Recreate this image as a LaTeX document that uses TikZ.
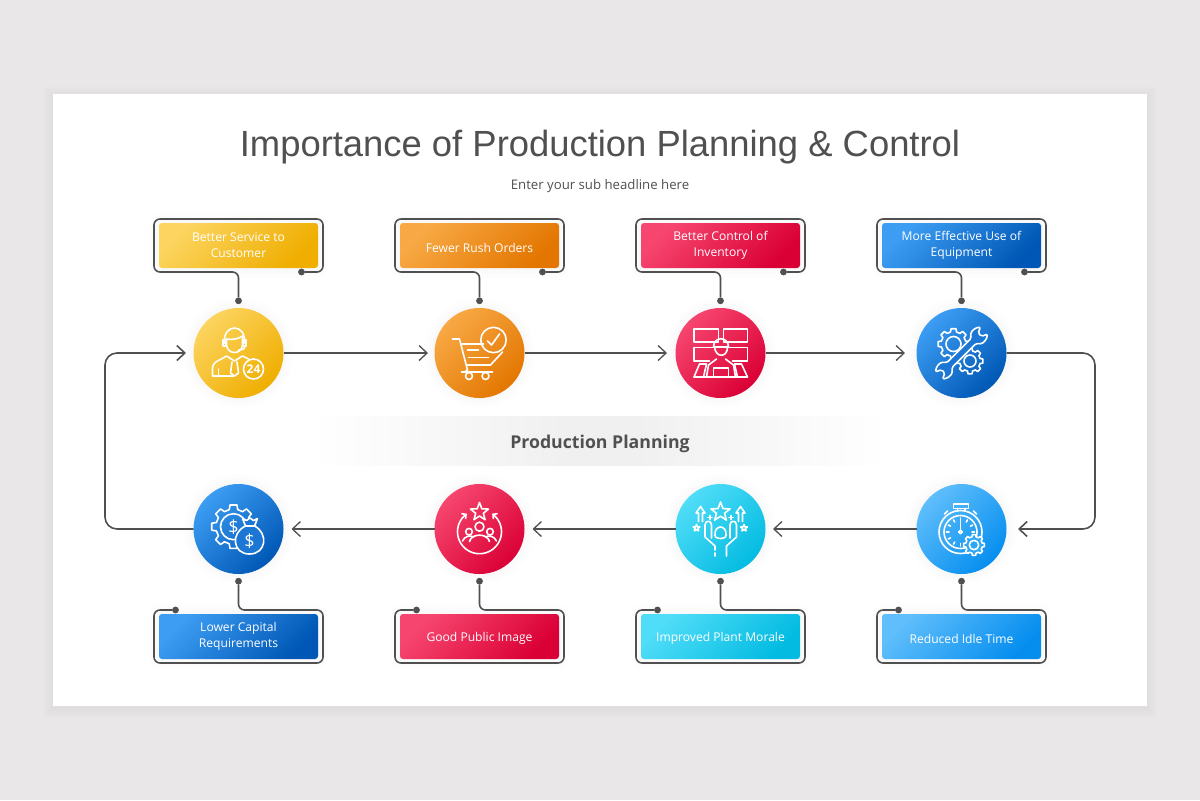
\documentclass[tikz,border=0pt]{standalone}
\usepackage{fontspec}
\setmainfont{Open Sans}
\newfontfamily\titlefont{Liberation Sans}
\usetikzlibrary{positioning, arrows.meta}

\definecolor{pagegray}{HTML}{E9E7E8}
\definecolor{inkgray}{HTML}{505050}
\definecolor{bluemid}{HTML}{1B76D4}
\definecolor{skymid}{HTML}{2CA8F6}
\definecolor{yellowtop}{HTML}{FCD45F}\definecolor{yellowend}{HTML}{EFAE00}
\definecolor{orangetop}{HTML}{F8A945}\definecolor{orangeend}{HTML}{E37600}
\definecolor{redtop}{HTML}{F6466F}\definecolor{redend}{HTML}{DA0035}
\definecolor{bluetop}{HTML}{3C9DF3}\definecolor{blueend}{HTML}{0057B5}
\definecolor{cyantop}{HTML}{50DDF8}\definecolor{cyanend}{HTML}{03BBE1}
\definecolor{skytop}{HTML}{5FBEFB}\definecolor{skyend}{HTML}{068EEF}

% one gear: options, x, y, outer radius
\newcommand{\gearshape}[4][]{
  \draw[shift={(#2,#3)},#1] (-14:#4*.8) \foreach \a in {0,45,...,315}
    {-- (\a-14:#4*.8) -- (\a-9:#4) -- (\a+9:#4) -- (\a+14:#4*.8)} -- cycle;
}
% one star: x, y, radius
\newcommand{\starshape}[3]{
  \draw[shift={(#1,#2)}] (-90:#3) \foreach \a/\r in {-54/.42,-18/1,18/.42,54/1,90/.42,126/1,162/.42,198/1,234/.42}
    {-- (\a:\r*#3)} -- cycle;
}

\begin{document}
\begin{tikzpicture}[x=.5pt, y=-.5pt, >={Straight Barb[length=4pt,width=7.5pt]},
    node distance=75.5pt,
    disc/.style={circle, minimum size=45pt, inner sep=0pt, outer sep=0pt, halo},
    tile/.style={rectangle, rounded corners=1.5pt, minimum width=79.5pt, minimum height=22.5pt,
      inner sep=0pt, outer sep=0pt, text=white, align=center,
      execute at begin node={\rule{0pt}{6.8pt}}, font=\fontsize{6.05}{8}\selectfont, halo},
    halo/.style={preaction={draw=black,draw opacity=.006,line width=10pt},
      preaction={draw=black,draw opacity=.006,line width=6pt},
      preaction={draw=black,draw opacity=.006,line width=3pt}},
    dot/.style={circle, fill=inkgray, minimum size=3.4pt, inner sep=0pt, outer sep=0pt},
    flow/.style={draw=inkgray, line width=.65pt, rounded corners=6pt, ->},
    wire/.style={draw=inkgray, line width=.8pt, rounded corners=3pt},
    icon/.style={draw=white, line width=.8pt, line join=round, line cap=round},
    yellowfill/.style={top color=yellowtop, bottom color=yellowend, shading angle=45},
    orangefill/.style={top color=orangetop, bottom color=orangeend, shading angle=45},
    redfill/.style={top color=redtop, bottom color=redend, shading angle=45},
    bluefill/.style={top color=bluetop, bottom color=blueend, shading angle=45},
    cyanfill/.style={top color=cyantop, bottom color=cyanend, shading angle=45},
    skyfill/.style={top color=skytop, bottom color=skyend, shading angle=45}]

  \fill[pagegray] (0,0) rectangle (1200,800);
  \useasboundingbox (0,0) rectangle (1200,800);
  \foreach \s in {1,2,...,10}
    \fill[black,opacity=.004] (53-\s,94-\s+2) rectangle (1147+\s,706+\s+2);
  \fill[white] (53,94) rectangle (1147,706);

  \foreach \s in {0,1,...,14}
    \fill[black,opacity=.004] (320+\s*17,416) rectangle (880-\s*17,466);
  \node[text=inkgray, font=\titlefont\fontsize{18.2}{22}\selectfont] (title) at (600,147) {Importance of Production Planning \& Control};
  \node[text=inkgray, font=\fontsize{6.6}{8}\selectfont] (subtitle) at (600,186) {Enter your sub headline here};
  \node[inner sep=0pt, text height=7.5pt, text depth=0pt, text=inkgray, font=\bfseries\fontsize{8.85}{11}\selectfont] (centre) at (600,441) {Production Planning};

  % top row
  \node[disc,yellowfill] (c1) at (238.5,353) {};
  \node[disc,orangefill,right=of c1] (c2) {};
  \node[disc,redfill,right=of c2] (c3) {};
  \node[disc,bluefill,right=of c3] (c4) {};
  % bottom row
  \node[disc,skyfill,below=43pt of c4] (c5) {};
  \node[disc,cyanfill,left=of c5] (c6) {};
  \node[disc,redfill,left=of c6] (c7) {};
  \node[disc,bluefill,left=of c7] (c8) {};

  \node[tile,yellowfill,above=20pt of c1] (b1) {Better Service to\\Customer};
  \node[tile,orangefill,above=20pt of c2] (b2) {Fewer Rush Orders};
  \node[tile,redfill,above=20pt of c3] (b3) {Better Control of\\Inventory};
  \node[tile,bluefill,above=20pt of c4] (b4) {More Effective Use of\\Equipment};
  \node[tile,skyfill,below=20pt of c5] (b5) {Reduced Idle Time};
  \node[tile,cyanfill,below=20pt of c6] (b6) {Improved Plant Morale};
  \node[tile,redfill,below=20pt of c7] (b7) {Good Public Image};
  \node[tile,bluefill,below=20pt of c8] (b8) {Lower Capital\\Requirements};

  \node[dot,above=1.9pt of c1] (p1) {};
  \node[dot,above=1.9pt of c2] (p2) {};
  \node[dot,above=1.9pt of c3] (p3) {};
  \node[dot,above=1.9pt of c4] (p4) {};
  \node[dot,below=1.9pt of c5] (p5) {};
  \node[dot,below=1.9pt of c6] (p6) {};
  \node[dot,below=1.9pt of c7] (p7) {};
  \node[dot,below=1.9pt of c8] (p8) {};
  \node[dot] (e1) at ([shift={(63,4)}]b1.south) {};
  \node[dot] (e2) at ([shift={(63,4)}]b2.south) {};
  \node[dot] (e3) at ([shift={(63,4)}]b3.south) {};
  \node[dot] (e4) at ([shift={(63,4)}]b4.south) {};
  \node[dot] (e5) at ([shift={(-63,-4)}]b5.north) {};
  \node[dot] (e6) at ([shift={(-63,-4)}]b6.north) {};
  \node[dot] (e7) at ([shift={(-63,-4)}]b7.north) {};
  \node[dot] (e8) at ([shift={(-63,-4)}]b8.north) {};

  \draw[wire] (e1) -- ++(21.5,0) -- ++(0,-53) -- ++(-169,0) -- ++(0,53) -- ++(84.5,0) -- (p1);
  \draw[wire] (e2) -- ++(21.5,0) -- ++(0,-53) -- ++(-169,0) -- ++(0,53) -- ++(84.5,0) -- (p2);
  \draw[wire] (e3) -- ++(21.5,0) -- ++(0,-53) -- ++(-169,0) -- ++(0,53) -- ++(84.5,0) -- (p3);
  \draw[wire] (e4) -- ++(21.5,0) -- ++(0,-53) -- ++(-169,0) -- ++(0,53) -- ++(84.5,0) -- (p4);
  \draw[wire] (e5) -- ++(-21.5,0) -- ++(0,53) -- ++(169,0) -- ++(0,-53) -- ++(-84.5,0) -- (p5);
  \draw[wire] (e6) -- ++(-21.5,0) -- ++(0,53) -- ++(169,0) -- ++(0,-53) -- ++(-84.5,0) -- (p6);
  \draw[wire] (e7) -- ++(-21.5,0) -- ++(0,53) -- ++(169,0) -- ++(0,-53) -- ++(-84.5,0) -- (p7);
  \draw[wire] (e8) -- ++(-21.5,0) -- ++(0,53) -- ++(169,0) -- ++(0,-53) -- ++(-84.5,0) -- (p8);

  \coordinate (ne) at (1095,353);
  \coordinate (se) at (1095,529);
  \coordinate (nw) at (105,353);
  \coordinate (sw) at (105,529);
  \draw[flow,shorten >=3.25pt] (c1) -- (c2);
  \draw[flow,shorten >=4.25pt] (c2) -- (c3);
  \draw[flow,shorten >=5.75pt] (c3) -- (c4);
  \draw[flow,line width=.8pt,shorten >=5.75pt] (c4) -- (ne) -- (se) -- (c5);
  \draw[flow,shorten >=3.75pt] (c5) -- (c6);
  \draw[flow,shorten >=4pt] (c6) -- (c7);
  \draw[flow,shorten >=4pt] (c7) -- (c8);
  \draw[flow,line width=.8pt,shorten >=3.75pt] (c8) -- (sw) -- (nw) -- (c1);

  % agent
  \begin{scope}[shift={(c1)},icon]
    \draw (-14,-10) .. controls (-16,-30) and (8,-30) .. (6,-10);
    \draw (-12,-14) .. controls (-7,-13) and (0,-14) .. (4,-17);
    \draw (-12,-14) -- (-12,-8) .. controls (-11,2) and (3,2) .. (4,-8) -- (4,-17);
    \draw (-15.5,-13) -- (-13,-13) -- (-13,-7) -- (-15.5,-7) -- cycle;
    \draw (5,-13) -- (7.5,-13) -- (7.5,-7) -- (5,-7) -- cycle;
    \draw (6.5,-7) .. controls (6,-3) and (3,-3) .. (0,-3);
    \draw (-5,23) -- (-26,23) -- (-26,15) .. controls (-26,9) and (-20,8) .. (-12,3) -- (-4,8) -- (4,3) -- (10,6);
    \draw (-20,23) -- (-20,16);
    \draw (-6.5,9) -- (-8,20) -- (-4,23) -- (0,20) -- (-1.5,9);
    \draw (15,16) circle (10);
    \node[text=white, inner sep=0pt, font=\bfseries\fontsize{6}{7}\selectfont] (n24) at (15,16) {24};
  \end{scope}
  % cart
  \begin{scope}[shift={(c2)},icon]
    \draw (-27,-14) -- (-20,-14) -- (-12,17) .. controls (-13,18) and (-14,19) .. (-18,19) -- (13,19);
    \draw (-18,-9) -- (4,-9);
    \draw (23,-1) -- (11,12) -- (-12,12);
    \draw (-12,-3) -- (-1,-3);
    \draw (-11,4.5) -- (9,4.5);
    \draw (-10.5,23) circle (3.5);
    \draw (6,23) circle (3.5);
    \draw (14,-13) circle (12.7);
    \draw (8,-12) -- (12,-8) -- (20,-19);
  \end{scope}
  % control wall
  \begin{scope}[shift={(c3)},icon]
    \draw (-26.5,-24) rectangle (-2,-11);
    \draw (3,-24) rectangle (27,-11);
    \draw (-8,-5.5) -- (-26.5,-5.5) -- (-26.5,8) -- (-11,8);
    \draw (9,-5.5) -- (27,-5.5) -- (27,8) -- (12,8);
    \draw (-26.5,24) -- (-21,11) -- (-14,11) -- (-17,24);
    \draw (27,24) -- (21,11) -- (14,11) -- (17,24);
    \draw (-26.5,24) -- (27,24);
    \draw (-7,-6) .. controls (-7,-17) and (8,-17) .. (8,-6) -- cycle;
    \draw (-6,-6) .. controls (-5,5) and (7,5) .. (7,-6);
    \draw (-14,24) -- (-12,12) -- (-4,6);
    \draw (15,24) -- (13,12) -- (5,6);
    \draw (-7,24) -- (-7,15) -- (8,15) -- (8,24);
  \end{scope}
  % gears and wrench
  \begin{scope}[shift={(c4)},icon]
    \gearshape{-8}{-9}{15.5}
    \draw (-8,-9) circle (7.5);
    \gearshape{8.5}{8}{13}
    \draw (8.5,8) circle (6);
    \begin{scope}[rotate=45]
      \draw[fill=bluemid,rounded corners=.8pt] (17,3.5) -- (21,8) -- (27,8) -- (32,5) -- (26,2.5) -- (26,-2.5) -- (32,-5)
        -- (27,-8) -- (21,-8) -- (17,-3.5) -- (-17,-3.5) -- (-21,-8) -- (-27,-8) -- (-32,-5) -- (-26,-2.5) -- (-26,2.5)
        -- (-32,5) -- (-27,8) -- (-21,8) -- (-17,3.5) -- cycle;
    \end{scope}
  \end{scope}
  % stopwatch
  \begin{scope}[shift={(c5)},icon]
    \draw (-8,-25) rectangle (7,-20.5);
    \draw (-4,-20.5) -- (-4,-18);
    \draw (3.5,-20.5) -- (3.5,-18);
    \draw (-17,-15) -- (-14,-18);
    \draw (15,-15) -- (12,-18);
    \draw (-1,3) circle (21.5);
    \draw (-1,3) circle (16.5);
    \foreach \a in {0,30,...,330}
      \draw (\a:11.5) ++(-1,3) -- ++(\a:2.5);
    \draw (-1,1) -- (-1,-10);
    \draw (-1,3) circle (1.8);
    \gearshape[fill=skymid]{12.5}{16}{10.5}
    \draw (12.5,16) circle (4.7);
  \end{scope}
  % morale
  \begin{scope}[shift={(c6)},icon]
    \starshape{0}{-17}{10}
    \starshape{-24}{-1}{3.5}
    \starshape{23.5}{-1}{3.5}
    \draw (-22,-7.5) -- (-22,-16) -- (-24.5,-16) -- (-20,-22.5) -- (-15.5,-16) -- (-18,-16) -- (-18,-7.5);
    \draw (18,-7.5) -- (18,-16) -- (15.5,-16) -- (20,-22.5) -- (24.5,-16) -- (22,-16) -- (22,-7.5);
    \draw (-12.5,-11.5) -- (-8.5,-11.5);
    \draw (-10.5,-13.5) -- (-10.5,-9.5);
    \draw (8.5,-11.5) -- (12.5,-11.5);
    \draw (10.5,-13.5) -- (10.5,-9.5);
    \draw (-5.5,7) .. controls (-7,-5) and (7,-5) .. (5.5,7);
    \draw (-5,8) .. controls (-2,10) and (2,10) .. (5,8);
    \draw (-9,9) -- (-9,-4) .. controls (-9,-9) and (-15.5,-9) .. (-15.5,-4) -- (-15.5,8) -- (-5.5,17) -- (-5.5,21);
    \draw (9.5,9) -- (9.5,-4) .. controls (9.5,-9) and (16,-9) .. (16,-4) -- (16,8) -- (6,17) -- (6,27);
    \draw (-5.5,24) -- (-5.5,27);
  \end{scope}
  % public image
  \begin{scope}[shift={(c7)},icon]
    \starshape{0}{-17}{9.5}
    \draw[<->,>={Straight Barb[length=1.6pt,width=3.4pt]}] plot[domain=-55:235,samples=50,variable=\t] ({22*cos(\t)},{2.7+22*sin(\t)});
    \draw (0,-2.3) circle (4.5);
    \draw (-10.5,2.7) circle (3.3);
    \draw (10.5,2.7) circle (3.3);
    \draw (-10,12.5) .. controls (-8,4) and (8,4) .. (10,12.5);
    \draw (-17,12) .. controls (-15,7) and (-9,6) .. (-6,8);
    \draw (17,12) .. controls (15,7) and (9,6) .. (6,8);
  \end{scope}
  % money gear
  \begin{scope}[shift={(c8)},icon]
    \gearshape{-5}{-2.3}{22}
    \draw (-5,-2.3) circle (13);
    \node[text=white, inner sep=0pt, font=\fontsize{9}{10}\selectfont] (gd) at (-5,-2.3) {\$};
    \draw[fill=bluemid] (7,-3) .. controls (-8,4) and (-6,25) .. (11,25) .. controls (28,25) and (30,4) .. (16,-3) -- cycle;
    \draw[fill=bluemid] (7,-3) -- (4,-10.5) -- (8,-8.5) -- (11.5,-11) -- (15,-8.5) -- (19,-10.5) -- (16,-3) -- cycle;
    \node[text=white, inner sep=0pt, font=\fontsize{9}{10}\selectfont] (bd) at (11,12) {\$};
  \end{scope}
\end{tikzpicture}
\end{document}
